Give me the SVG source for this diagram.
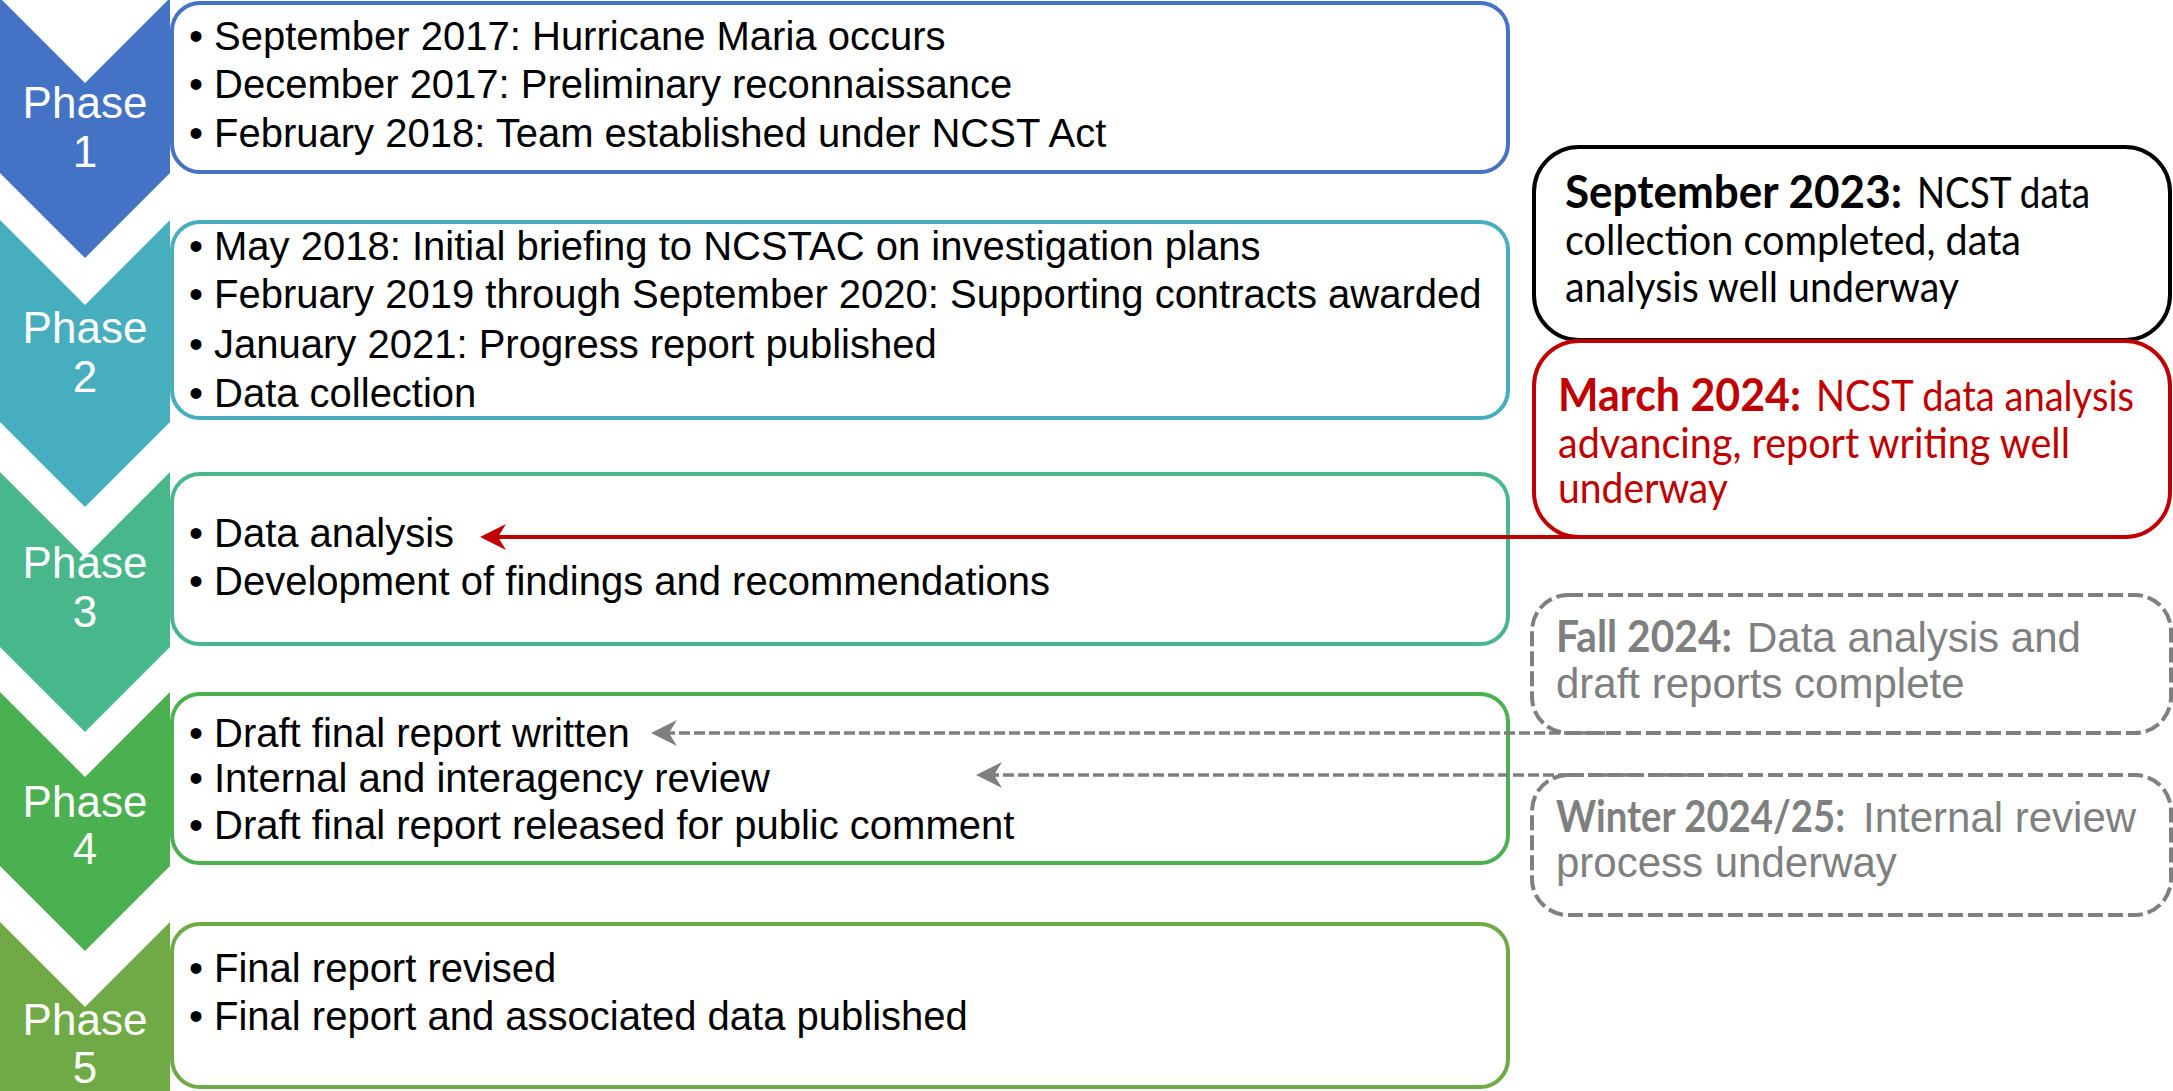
<svg xmlns="http://www.w3.org/2000/svg" width="2173" height="1091" viewBox="0 0 2173 1091">
<defs>
<style>
.bul{font-family:"Liberation Sans",Arial,sans-serif;font-size:40px;fill:#000}
.ph{font-family:"Liberation Sans",Arial,sans-serif;font-size:44px;fill:#fff;text-anchor:middle}
.box{fill:#fff;stroke-width:4}
.rbox{fill:#fff;stroke-width:4}
.gbox{fill:#fff;stroke:#7f7f7f;stroke-width:4;stroke-dasharray:15 5}
.ct{font-family:Lato,"Open Sans",sans-serif;font-size:42px}
.cb{font-weight:bold;font-size:46px}
.gt{font-family:"Liberation Sans",Arial,sans-serif;font-size:42px;fill:#7f7f7f}
.gb{font-family:Lato,"Open Sans",sans-serif;font-weight:bold;font-size:44px}
.red{fill:#C00000}
</style>
<marker id="arR" markerUnits="userSpaceOnUse" markerWidth="26" markerHeight="26" viewBox="0 0 26 26" refX="8" refY="13" orient="auto"><path d="M26,13 L0,0 L8,13 L0,26 Z" fill="#C00000"/></marker>
<marker id="arG" markerUnits="userSpaceOnUse" markerWidth="26" markerHeight="26" viewBox="0 0 26 26" refX="8" refY="13" orient="auto"><path d="M26,13 L0,0 L8,13 L0,26 Z" fill="#7f7f7f"/></marker>
</defs>
<rect width="2173" height="1091" fill="#fff"/>

<g id="phase1">
<rect class="box" x="172" y="3" width="1336" height="169" rx="28" stroke="#4472C4"/>
<polygon points="0,-2 85,83 170,-2 170,173 85,258 0,173" fill="#4472C4"/>
<text class="ph" x="85" y="118">Phase</text>
<text class="ph" x="85" y="167">1</text>
<text class="bul" x="189" y="50">•</text>
<text class="bul" x="214" y="50">September 2017: Hurricane Maria occurs</text>
<text class="bul" x="189" y="98">•</text>
<text class="bul" x="214" y="98">December 2017: Preliminary reconnaissance</text>
<text class="bul" x="189" y="147">•</text>
<text class="bul" x="214" y="147">February 2018: Team established under NCST Act</text>
</g>

<g id="phase2">
<rect class="box" x="172" y="222" width="1336" height="196" rx="28" stroke="#46AEBE"/>
<polygon points="0,220 85,305 170,220 170,422 85,507 0,422" fill="#46AEBE"/>
<text class="ph" x="85" y="343">Phase</text>
<text class="ph" x="85" y="392">2</text>
<text class="bul" x="189" y="260">•</text>
<text class="bul" x="214" y="260">May 2018: Initial briefing to NCSTAC on investigation plans</text>
<text class="bul" x="189" y="308">•</text>
<text class="bul" x="214" y="308">February 2019 through September 2020: Supporting contracts awarded</text>
<text class="bul" x="189" y="358">•</text>
<text class="bul" x="214" y="358">January 2021: Progress report published</text>
<text class="bul" x="189" y="407">•</text>
<text class="bul" x="214" y="407">Data collection</text>
</g>

<g id="phase3">
<rect class="box" x="172" y="474" width="1336" height="170" rx="28" stroke="#48B88C"/>
<polygon points="0,472 85,557 170,472 170,647 85,732 0,647" fill="#48B88C"/>
<text class="ph" x="85" y="578">Phase</text>
<text class="ph" x="85" y="627">3</text>
<text class="bul" x="189" y="547">•</text>
<text class="bul" x="214" y="547">Data analysis</text>
<text class="bul" x="189" y="595">•</text>
<text class="bul" x="214" y="595">Development of findings and recommendations</text>
</g>

<g id="phase4">
<rect class="box" x="172" y="694" width="1336" height="169" rx="28" stroke="#4AB050"/>
<polygon points="0,692 85,777 170,692 170,866 85,951 0,866" fill="#4AB050"/>
<text class="ph" x="85" y="817">Phase</text>
<text class="ph" x="85" y="864">4</text>
<text class="bul" x="189" y="747">•</text>
<text class="bul" x="214" y="747">Draft final report written</text>
<text class="bul" x="189" y="792">•</text>
<text class="bul" x="214" y="792">Internal and interagency review</text>
<text class="bul" x="189" y="839">•</text>
<text class="bul" x="214" y="839">Draft final report released for public comment</text>
</g>

<g id="phase5">
<rect class="box" x="172" y="924" width="1336" height="163" rx="28" stroke="#70AA46"/>
<polygon points="0,922 85,1007 170,922 170,1092 85,1177 0,1092" fill="#70AA46"/>
<text class="ph" x="85" y="1035">Phase</text>
<text class="ph" x="85" y="1083">5</text>
<text class="bul" x="189" y="982">•</text>
<text class="bul" x="214" y="982">Final report revised</text>
<text class="bul" x="189" y="1030">•</text>
<text class="bul" x="214" y="1030">Final report and associated data published</text>
</g>

<g id="sep2023">
<rect class="rbox" x="1534" y="147" width="636" height="193" rx="45" stroke="#000"/>
<text class="ct"><tspan class="cb" x="1565" y="208" textLength="337" lengthAdjust="spacingAndGlyphs">September 2023:</tspan><tspan x="1917" y="208" textLength="173" lengthAdjust="spacingAndGlyphs">NCST data</tspan><tspan x="1565" y="255" textLength="456" lengthAdjust="spacingAndGlyphs">collection completed, data</tspan><tspan x="1565" y="302" textLength="394" lengthAdjust="spacingAndGlyphs">analysis well underway</tspan></text>
</g>

<g id="mar2024">
<rect class="rbox" x="1534" y="341" width="636" height="196" rx="45" stroke="#C00000"/>
<text class="ct red"><tspan class="cb" x="1558" y="411" textLength="243" lengthAdjust="spacingAndGlyphs">March 2024:</tspan><tspan x="1816" y="411" textLength="318" lengthAdjust="spacingAndGlyphs">NCST data analysis</tspan><tspan x="1558" y="458" textLength="512" lengthAdjust="spacingAndGlyphs">advancing, report writing well</tspan><tspan x="1558" y="503" textLength="170" lengthAdjust="spacingAndGlyphs">underway</tspan></text>
</g>

<g id="fall2024">
<rect class="gbox" x="1532" y="595" width="639" height="138" rx="36"/>
<text class="gt"><tspan class="gb" x="1556" y="652" textLength="176" lengthAdjust="spacingAndGlyphs">Fall 2024:</tspan><tspan x="1747" y="652">Data analysis and</tspan><tspan x="1556" y="698">draft reports complete</tspan></text>
</g>

<g id="winter2024">
<rect class="gbox" x="1532" y="775" width="639" height="140" rx="36"/>
<text class="gt"><tspan class="gb" x="1556" y="832" textLength="289" lengthAdjust="spacingAndGlyphs">Winter 2024/25:</tspan><tspan x="1863" y="832">Internal review</tspan><tspan x="1556" y="877">process underway</tspan></text>
</g>

<g id="connectors" fill="none">
<path d="M1600,537 L498,537" stroke="#C00000" stroke-width="4" marker-end="url(#arR)"/>
<path d="M1620,733 L669,733" stroke="#7f7f7f" stroke-width="3.5" stroke-dasharray="11 4" marker-end="url(#arG)"/>
<path d="M1734,775 L994,775" stroke="#7f7f7f" stroke-width="3.5" stroke-dasharray="11 4" marker-end="url(#arG)"/>
</g>
</svg>
